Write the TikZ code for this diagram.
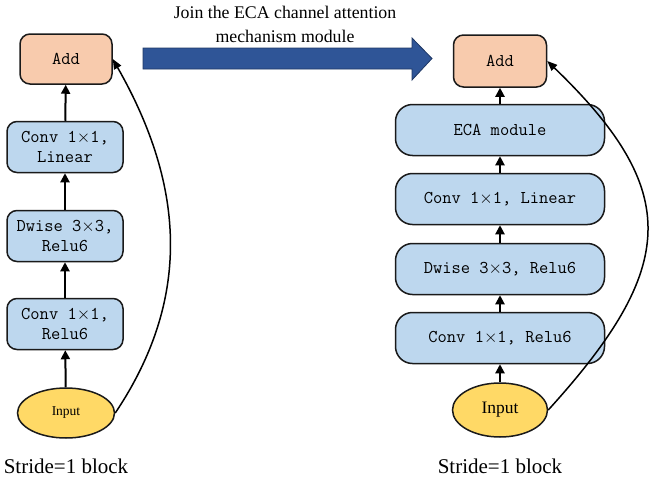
\documentclass[tikz,border=0pt]{standalone}
\usepackage{fontspec}
\setmainfont{Liberation Serif}
\usetikzlibrary{arrows.meta,shapes.geometric}
\definecolor{addfill}{HTML}{F8CBAD}
\definecolor{opfill}{HTML}{BDD7EE}
\definecolor{infill}{HTML}{FFD966}
\definecolor{bigarrow}{HTML}{2F5597}
\definecolor{bigarrowedge}{HTML}{203864}
\definecolor{edge}{HTML}{1A1A1A}
\newcommand{\bx}{$\times$}
\tikzset{
  base/.style={draw=edge, line width=1.5pt, align=center, inner sep=0pt,
    font=\ttfamily\fontsize{18}{20.5}\selectfont},
  addbox/.style={base, fill=addfill, rounded corners=10pt,
    minimum width=92pt, minimum height=50pt},
  opbox/.style={base, fill=opfill, rounded corners=10pt,
    minimum width=116pt, minimum height=51pt},
  widebox/.style={base, fill=opfill, rounded corners=17pt,
    minimum width=209pt, minimum height=51pt},
  inputnode/.style={ellipse, draw=edge, line width=1.5pt, fill=infill,
    inner sep=0pt},
  flow/.style={line width=2pt, -{Triangle[length=9pt,width=9pt]}},
  skip/.style={line width=1.5pt, -{Triangle[length=10pt,width=8pt]}},
  caption/.style={font=\fontsize{21}{24}\selectfont, inner sep=0pt},
}
\begin{document}
\begin{tikzpicture}[x=1pt, y=-1pt]
  \useasboundingbox (0,0) rectangle (649,480);

  % left column: plain block
  \node[addbox] (addL) at (66,59) {Add};
  \node[opbox]  (linL) at (65,147) {Conv 1\bx1,\\Linear};
  \node[opbox]  (dwL)  at (65,236) {Dwise 3\bx3,\\Relu6};
  \node[opbox]  (reL)  at (65,324) {Conv 1\bx1,\\Relu6};
  \node[inputnode, minimum width=97pt, minimum height=50pt,
        font=\fontsize{13.5}{16}\selectfont] (inL) at (66,413) {Input};
  \node[caption] (capL) at (66,466) {Stride=1 block};

  \draw[flow] (inL) -- (reL);
  \draw[flow] (reL) -- (dwL);
  \draw[flow] (dwL) -- (linL);
  \draw[flow] (linL) -- (addL);
  \draw[skip] (inL.east) .. controls +(75,-112) and +(74,130) .. (addL.east);

  % transition arrow with its label
  \draw[fill=bigarrow, draw=bigarrowedge, line width=0.8pt]
    (143,48) -- (412,48) -- (412,38) -- (432,58.5) -- (412,80)
    -- (412,69) -- (143,69) -- cycle;
  \node[align=center, font=\fontsize{17.8}{24}\selectfont, inner sep=0pt]
    (lbl) at (285,24) {Join the ECA channel attention\\mechanism module};

  % right column: block with ECA module
  \node[addbox, minimum width=93pt, minimum height=52pt] (addR) at (500,61) {Add};
  \node[widebox] (ecaR) at (500,130) {ECA module};
  \node[widebox] (linR) at (500,199) {Conv 1\bx1, Linear};
  \node[widebox] (dwR)  at (500,269) {Dwise 3\bx3, Relu6};
  \node[widebox] (reR)  at (500,338) {Conv 1\bx1, Relu6};
  \node[inputnode, minimum width=95pt, minimum height=54pt,
        font=\fontsize{17.5}{20}\selectfont] (inR) at (500,410) {Input};
  \node[caption] (capR) at (500,466) {Stride=1 block};

  \draw[flow] (inR) -- (reR);
  \draw[flow] (reR) -- (dwR);
  \draw[flow] (dwR) -- (linR);
  \draw[flow] (linR) -- (ecaR);
  \draw[flow] (ecaR) -- (addR);
  \draw[skip] (inR.east) .. controls +(130,-143) and +(135,130) .. (addR.east);
\end{tikzpicture}
\end{document}
